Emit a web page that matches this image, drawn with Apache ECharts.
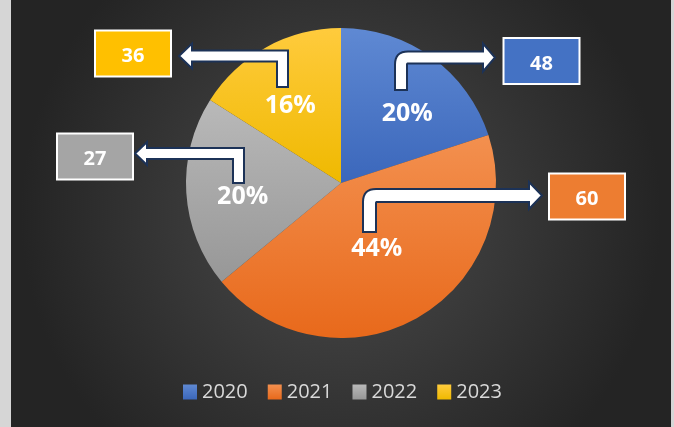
<!DOCTYPE html>
<html>
<head>
<meta charset="utf-8">
<script src="https://cdn.jsdelivr.net/npm/echarts@6/dist/echarts.min.js"></script>
<style>
  html, body { margin: 0; padding: 0; background: #d6d6d6; }
  #chart { position: absolute; left: 11px; top: 0; width: 660px; height: 427px; }
</style>
</head>
<body>
<div id="chart"></div>
<script>
// 年份
const years = ["2020", "2021", "2022", "2023"];
// 饼图份额（百分比）
const shares = [20, 44, 20, 16];
// 标注框里的数值
const calloutValues = [48, 60, 27, 36];

const baseColors = ["#4472C4", "#ED7D31", "#A5A5A5", "#FFC000"];
const topColors = ["#5f89d3", "#f3904f", "#b9b9b9", "#ffcb3d"];
const bottomColors = ["#3b67bb", "#e8691b", "#979797", "#efb900"];

// 百分比标签的微调
const labelShift = [[19, -4], [-3, -5], [-18, 9], [-12, -7]];

// 箭头与标注框（相对于图表容器）
const arrows = [
  { x0: 390, yBottom: 90, yShaft: 57.5, tip: 484, w: 12, head: 14, len: 12, round: true },
  { x0: 358.5, yBottom: 232, yShaft: 195.5, tip: 531, w: 13, head: 13.5, len: 13, round: true },
  { x0: 227.5, yBottom: 183, yShaft: 153.5, tip: 124, w: 11, head: 11.5, len: 12, round: false },
  { x0: 271.5, yBottom: 87, yShaft: 56, tip: 168, w: 11, head: 12.5, len: 13, round: false },
];
const boxes = [
  { cx: 530.5, cy: 61 },
  { cx: 576, cy: 196.5 },
  { cx: 84, cy: 156.5 },
  { cx: 122, cy: 53.5 },
];

// 二次贝塞尔曲线取点，用来画圆角
function quad(p0, c, p1, n) {
  const pts = [];
  for (let k = 1; k < n; k++) {
    const t = k / n;
    const u = 1 - t;
    pts.push([
      u * u * p0[0] + 2 * u * t * c[0] + t * t * p1[0],
      u * u * p0[1] + 2 * u * t * c[1] + t * t * p1[1],
    ]);
  }
  return pts;
}

function arrowPoints(a) {
  const d = a.tip > a.x0 ? 1 : -1;
  const h = a.w / 2;
  const xo = a.x0 - d * h; // 外侧边
  const xi = a.x0 + d * h; // 内侧边
  const top = a.yShaft - h;
  const bot = a.yShaft + h;
  const hb = a.tip - d * a.len;
  let pts = [[xo, a.yBottom]];
  if (a.round) {
    const R = 13;
    pts.push([xo, top + R]);
    pts = pts.concat(quad([xo, top + R], [xo, top], [xo + d * R, top], 8));
    pts.push([xo + d * R, top]);
  } else {
    pts.push([xo, top]);
  }
  pts.push([hb, top], [hb, a.yShaft - a.head], [a.tip, a.yShaft], [hb, a.yShaft + a.head], [hb, bot]);
  if (a.round) {
    const r2 = Math.max(13 - a.w, 1);
    pts.push([xi + d * r2, bot]);
    pts = pts.concat(quad([xi + d * r2, bot], [xi, bot], [xi, bot + r2], 4));
    pts.push([xi, bot + r2]);
  } else {
    pts.push([xi, bot]);
  }
  pts.push([xi, a.yBottom]);
  return pts;
}

const graphics = [];
arrows.forEach((a) => {
  graphics.push({
    type: "polygon",
    shape: { points: arrowPoints(a) },
    style: { fill: "#ffffff", stroke: "#1c3257", lineWidth: 2, lineJoin: "miter" },
    z: 100,
  });
});
boxes.forEach((b, i) => {
  graphics.push({
    type: "rect",
    shape: { x: b.cx - 38, y: b.cy - 23, width: 76, height: 46 },
    style: { fill: baseColors[i], stroke: "#ffffff", lineWidth: 2 },
    z: 100,
  });
  graphics.push({
    type: "text",
    x: b.cx,
    y: b.cy + 3,
    style: {
      text: String(calloutValues[i]),
      fill: "#ffffff",
      font: "bold 20px 'Open Sans'",
      align: "center",
      verticalAlign: "middle",
    },
    z: 101,
  });
});

const chart = echarts.init(document.getElementById("chart"));
chart.setOption({
  backgroundColor: new echarts.graphic.RadialGradient(0.5, 0.5, 0.75, [
    { offset: 0, color: "#4c4c4c" },
    { offset: 1, color: "#242424" },
  ]),
  legend: {
    left: 167,
    top: 377,
    itemWidth: 14,
    itemHeight: 15,
    itemGap: 20,
    icon: "rect",
    textStyle: { color: "#d9d9d9", fontSize: 20, fontFamily: "Open Sans" },
    data: years,
  },
  graphic: graphics,
  series: [
    {
      type: "pie",
      center: [330, 183],
      radius: 155,
      startAngle: 90,
      clockwise: true,
      silent: true,
      label: {
        show: true,
        position: "inside",
        formatter: "{c}%",
        color: "#ffffff",
        fontSize: 25,
        fontWeight: "bold",
        fontFamily: "Open Sans",
      },
      labelLayout: (params) => ({
        dx: labelShift[params.dataIndex][0],
        dy: labelShift[params.dataIndex][1],
      }),
      data: years.map((y, i) => ({
        name: y,
        value: shares[i],
        itemStyle: {
          color: new echarts.graphic.LinearGradient(0, 0, 0, 1, [
            { offset: 0, color: topColors[i] },
            { offset: 1, color: bottomColors[i] },
          ]),
        },
      })),
    },
  ],
});
</script>
</body>
</html>
